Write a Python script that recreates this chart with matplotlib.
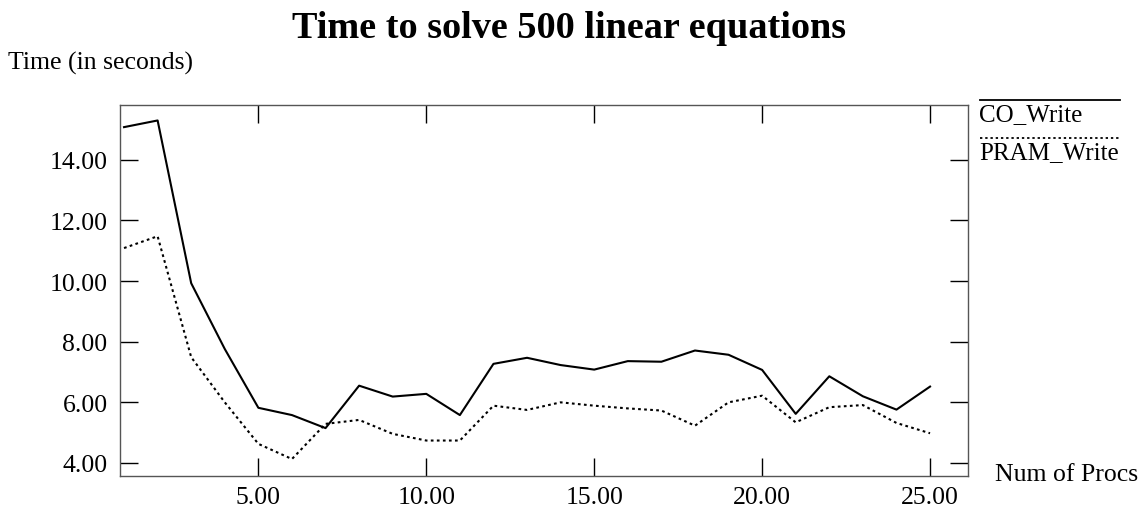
import numpy as np
import matplotlib.pyplot as plt
from matplotlib.lines import Line2D

plt.rcParams['font.family'] = ['Liberation Serif', 'DejaVu Serif']

procs = np.arange(1, 26)
co_write = [15.08, 15.30, 9.93, 7.76, 5.82, 5.58, 5.15, 6.55, 6.19, 6.28,
            5.58, 7.27, 7.47, 7.23, 7.08, 7.36, 7.34, 7.71, 7.57, 7.07,
            5.62, 6.86, 6.20, 5.76, 6.52]
pram_write = [11.09, 11.48, 7.49, 6.00, 4.63, 4.13, 5.29, 5.42, 4.96, 4.74,
              4.74, 5.89, 5.75, 6.00, 5.89, 5.80, 5.73, 5.23, 6.00, 6.22,
              5.34, 5.84, 5.91, 5.32, 4.98]
x_ticks = [5, 10, 15, 20, 25]
y_ticks = [4, 6, 8, 10, 12, 14]

dotted = (0, (1.3, 1.6))

W, H = 1139, 510
fig = plt.figure(figsize=(W / 100, H / 100), dpi=100)
ax = fig.add_axes([120 / W, 1 - 477 / H, (968 - 120) / W, (477 - 106) / H])

ax.plot(procs, co_write, color='black', linewidth=1.5)
ax.plot(procs, pram_write, color='black', linewidth=1.5, linestyle=dotted)

ax.set_xlim(0.88, 26.13)
ax.set_ylim(3.57, 15.81)
ax.set_xticks(x_ticks)
ax.set_yticks(y_ticks)
ax.set_xticklabels([f"{v:.2f}" for v in x_ticks])
ax.set_yticklabels([f"{v:.2f}" for v in y_ticks])
ax.tick_params(direction='in', length=13, width=1, labelsize=18.5, pad=9,
               top=True, right=True, colors='black')
ax.tick_params(axis='x', pad=7)
for s in ax.spines.values():
    s.set_color('#555555')
    s.set_linewidth(1)

fig.text(0.5, 1 - 28 / H, "Time to solve 500 linear equations", ha='center',
         va='center', fontsize=27.5, fontweight='bold')
fig.text(8 / W, 1 - 63 / H, "Time (in seconds)", ha='left', va='center', fontsize=18.5)
fig.text(995 / W, 1 - 475 / H, "Num of Procs", ha='left', va='center', fontsize=18.5)

# legend drawn by hand to the right of the axes
for ly, ty, label, ls in [(101, 115, "CO_Write", '-'),
                          (139, 153, "PRAM_Write", dotted)]:
    fig.add_artist(Line2D([980 / W, 1120 / W], [1 - ly / H, 1 - ly / H],
                          color='black', linewidth=1.3, linestyle=ls))
    fig.text(979 / W, 1 - ty / H, label, ha='left', va='center', fontsize=18)

fig.savefig('out.png', dpi=100)
